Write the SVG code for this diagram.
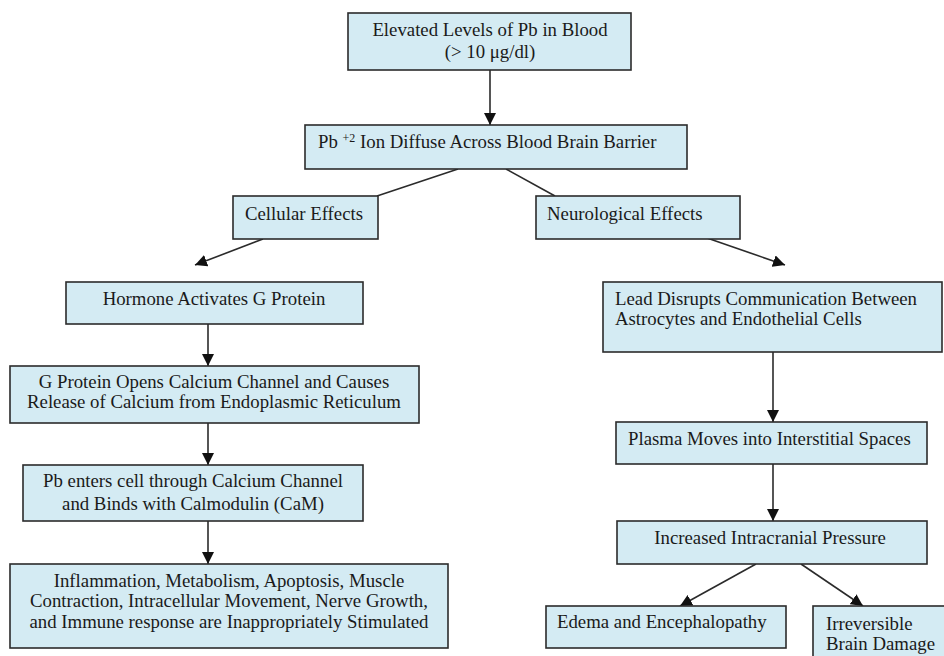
<svg xmlns="http://www.w3.org/2000/svg" width="944" height="656" viewBox="0 0 944 656">
<style>
.box{fill:#d4ebf3;stroke:#2b2b2b;stroke-width:1.6}
text{font-family:'Liberation Serif','Times New Roman',serif;font-size:18.8px;fill:#1a1a1a}
.c{text-anchor:middle}
.ln{stroke:#2b2b2b;stroke-width:1.6;fill:none}
</style>
<defs>
<marker id="ah" viewBox="0 0 12 12" refX="12" refY="6" markerWidth="12" markerHeight="12" markerUnits="userSpaceOnUse" orient="auto">
<path d="M0,0 L12,6 L0,12 z" fill="#111"/>
</marker>
</defs>
<rect width="944" height="656" fill="#fff"/>
<g id="connectors">
<line class="ln" x1="490" y1="70" x2="490" y2="125" marker-end="url(#ah)"/>
<line class="ln" x1="458" y1="169" x2="377" y2="196"/>
<line class="ln" x1="506" y1="169" x2="555" y2="196"/>
<line class="ln" x1="263" y1="239" x2="195" y2="265" marker-end="url(#ah)"/>
<line class="ln" x1="707" y1="238" x2="785" y2="265" marker-end="url(#ah)"/>
<line class="ln" x1="208" y1="324" x2="208" y2="366" marker-end="url(#ah)"/>
<line class="ln" x1="208" y1="423" x2="208" y2="465" marker-end="url(#ah)"/>
<line class="ln" x1="208" y1="521" x2="208" y2="564" marker-end="url(#ah)"/>
<line class="ln" x1="773" y1="352" x2="773" y2="422" marker-end="url(#ah)"/>
<line class="ln" x1="773" y1="464" x2="773" y2="521" marker-end="url(#ah)"/>
<line class="ln" x1="756" y1="564" x2="680" y2="606" marker-end="url(#ah)"/>
<line class="ln" x1="801" y1="564" x2="863" y2="606" marker-end="url(#ah)"/>
</g>
<g id="n-elevated">
<rect class="box" x="348" y="13" width="283" height="57"/>
<text class="c" x="490" y="36">Elevated Levels of Pb in Blood</text>
<text class="c" x="490" y="58">(&gt; 10 μg/dl)</text>
</g>
<g id="n-pb">
<rect class="box" x="305" y="125" width="382" height="44"/>
<text x="318" y="148">Pb <tspan font-size="12" dy="-6">+2</tspan><tspan dy="6">  Ion Diffuse Across Blood Brain Barrier</tspan></text>
</g>
<g id="n-cellular">
<rect class="box" x="233" y="196" width="145" height="43"/>
<text x="245" y="220">Cellular Effects</text>
</g>
<g id="n-neuro">
<rect class="box" x="536" y="196" width="204" height="43"/>
<text x="547" y="220">Neurological Effects</text>
</g>
<g id="n-hormone">
<rect class="box" x="66" y="282" width="297" height="42"/>
<text class="c" x="214" y="305">Hormone Activates G Protein</text>
</g>
<g id="n-gprotein">
<rect class="box" x="10" y="366" width="409" height="57"/>
<text class="c" x="214" y="388">G Protein Opens Calcium Channel and Causes</text>
<text class="c" x="214" y="408">Release of Calcium from Endoplasmic Reticulum</text>
</g>
<g id="n-pbenters">
<rect class="box" x="23" y="465" width="340" height="56"/>
<text class="c" x="193" y="487">Pb enters cell through Calcium Channel</text>
<text class="c" x="193" y="510">and Binds with Calmodulin (CaM)</text>
</g>
<g id="n-inflammation">
<rect class="box" x="10" y="564" width="438" height="84"/>
<text class="c" x="229" y="587">Inflammation, Metabolism, Apoptosis, Muscle</text>
<text class="c" x="229" y="607">Contraction, Intracellular Movement, Nerve Growth,</text>
<text class="c" x="229" y="628">and Immune response are Inappropriately Stimulated</text>
</g>
<g id="n-lead">
<rect class="box" x="603" y="282" width="339" height="70"/>
<text x="615" y="305">Lead Disrupts Communication Between</text>
<text x="615" y="325">Astrocytes and Endothelial Cells</text>
</g>
<g id="n-plasma">
<rect class="box" x="616" y="422" width="311" height="42"/>
<text x="628" y="445">Plasma Moves into Interstitial Spaces</text>
</g>
<g id="n-icp">
<rect class="box" x="617" y="521" width="310" height="43"/>
<text class="c" x="770" y="544">Increased Intracranial Pressure</text>
</g>
<g id="n-edema">
<rect class="box" x="546" y="606" width="240" height="42"/>
<text x="557" y="628">Edema and Encephalopathy</text>
</g>
<g id="n-irreversible">
<rect class="box" x="813" y="606" width="140" height="60"/>
<text x="826" y="630">Irreversible</text>
<text x="826" y="650">Brain Damage</text>
</g>
</svg>
